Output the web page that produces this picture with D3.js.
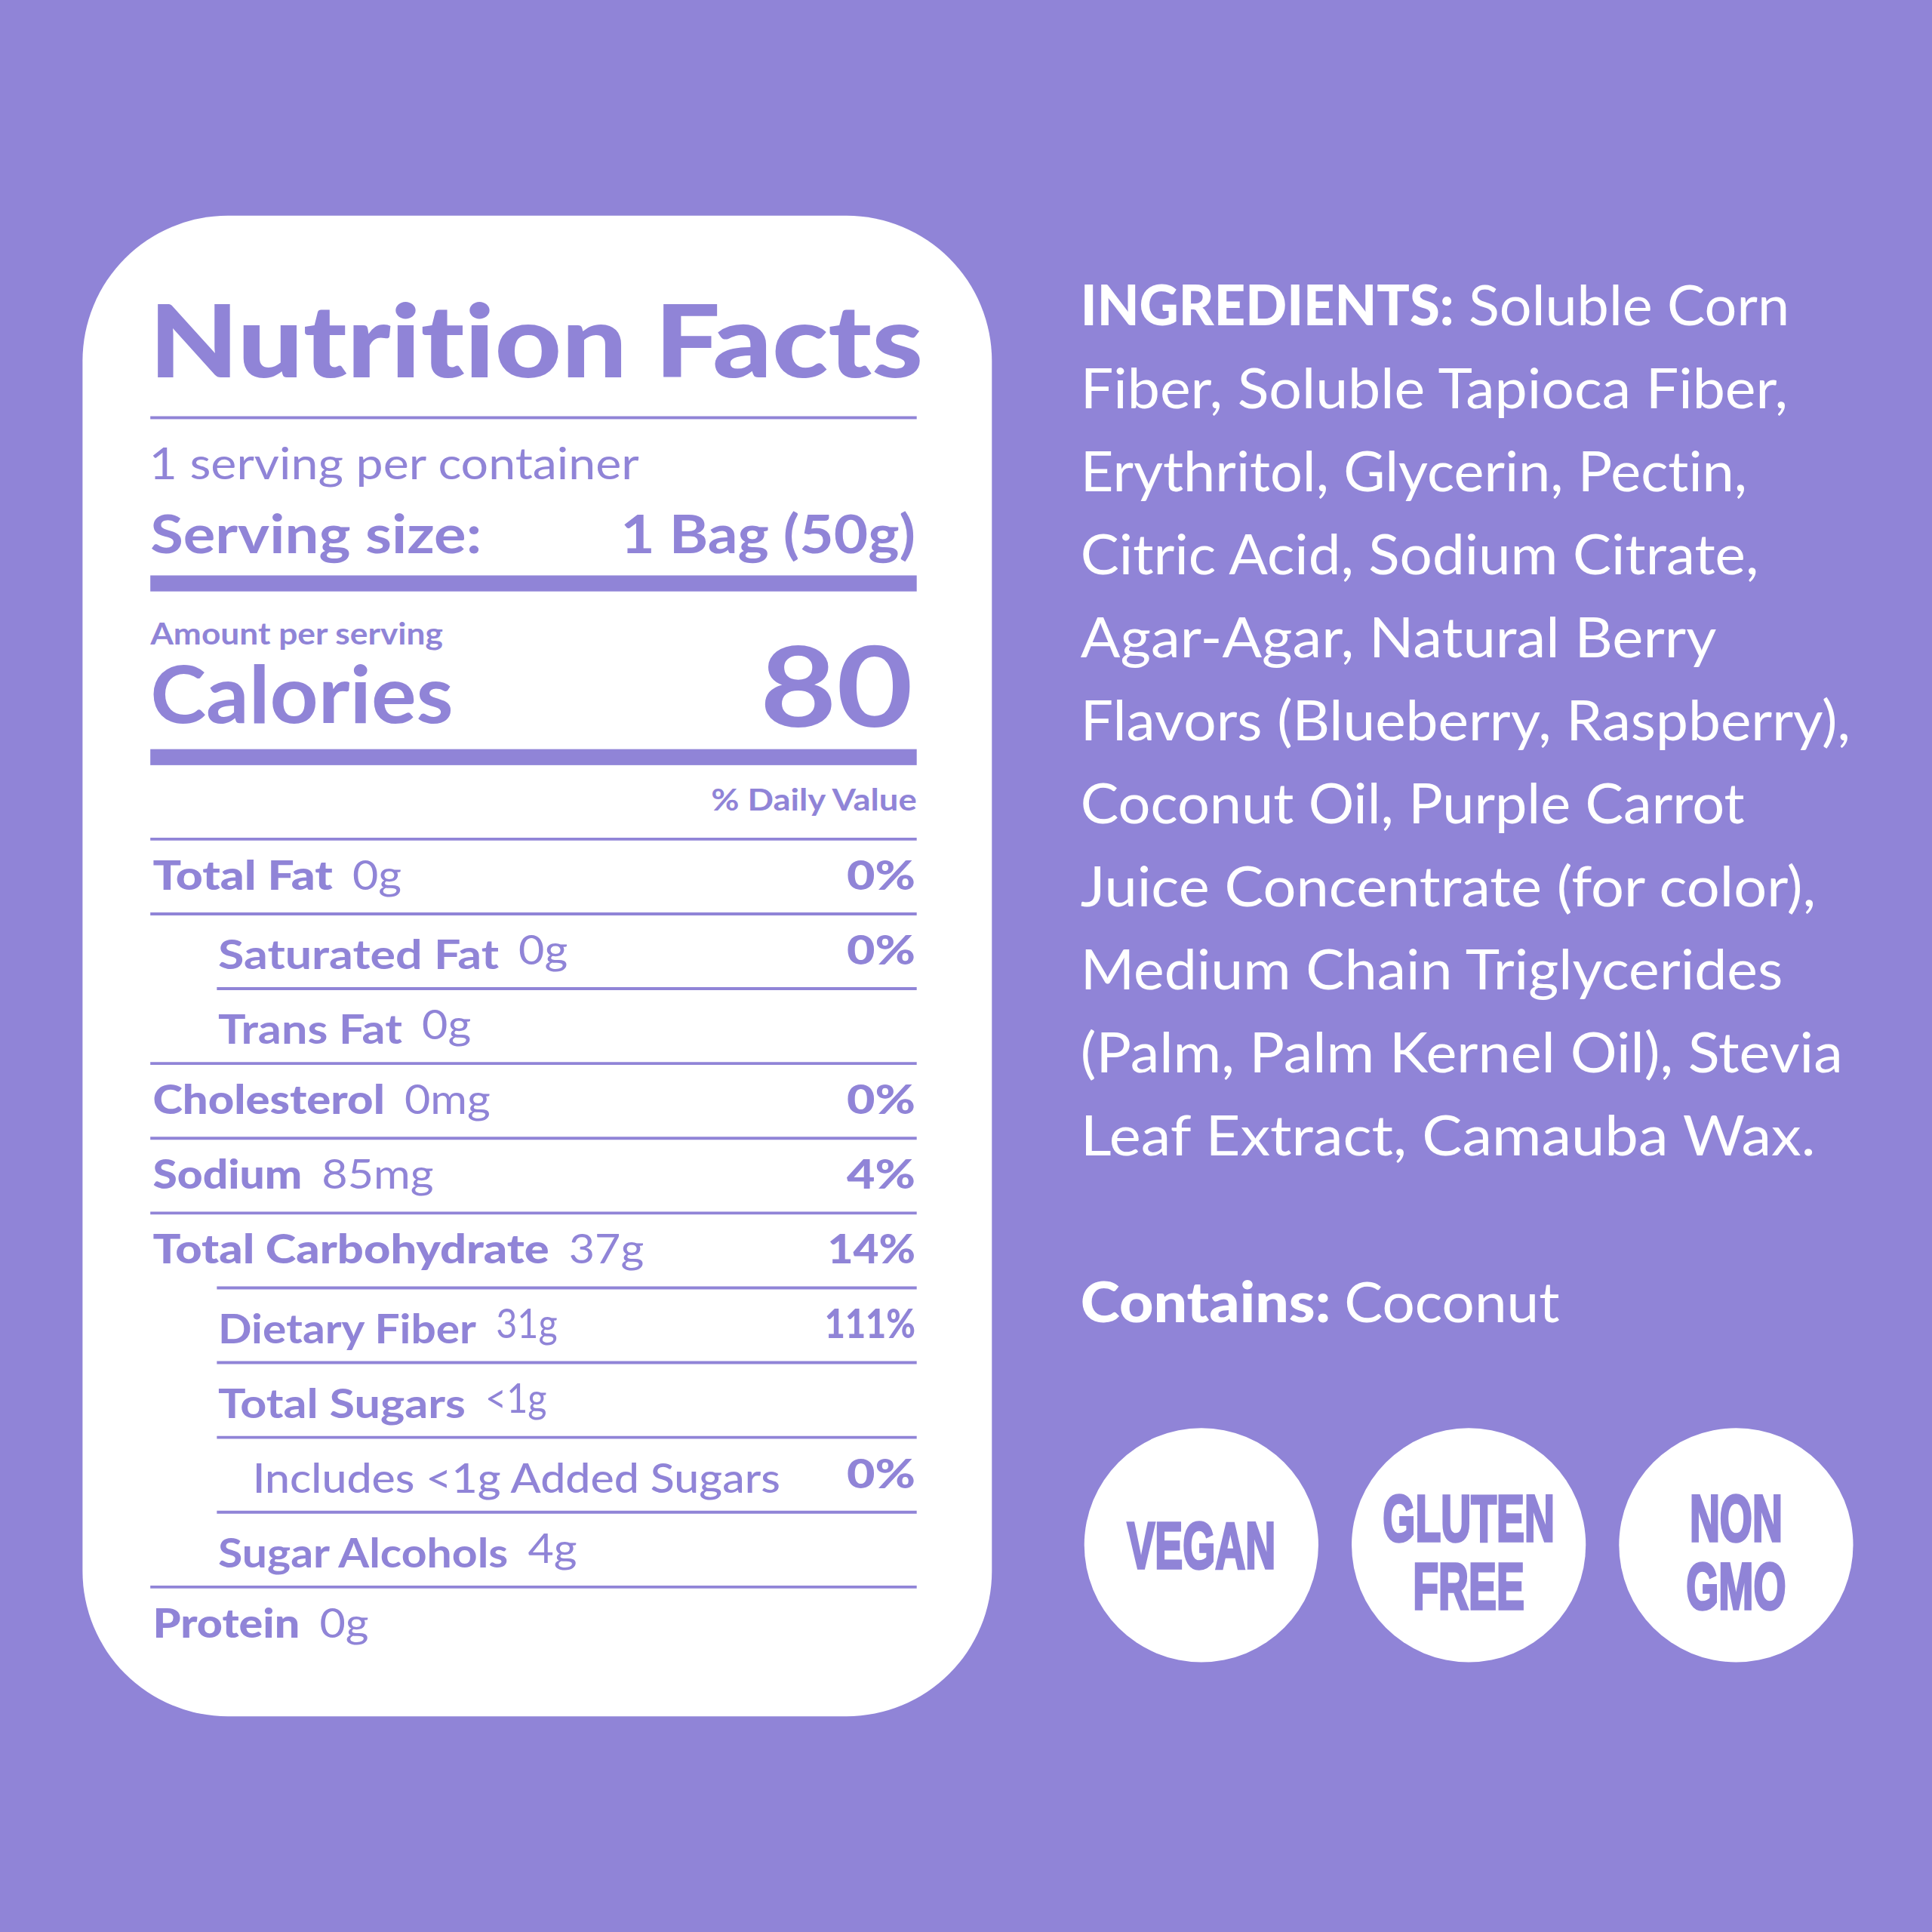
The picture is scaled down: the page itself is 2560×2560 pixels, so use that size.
<!DOCTYPE html>
<html>
<head>
<meta charset="utf-8">
<style>
body { margin: 0; background: #9084d7; }
svg { display: block; }
text { font-family: Lato, sans-serif; font-variant-ligatures: none; }
</style>
</head>
<body>
<svg id="chart" width="2560" height="2560" viewBox="0 0 1568 1568"></svg>
<script src="https://d3js.org/d3.v7.min.js"></script>
<script>

const purple = "#9084d7";

// nutrition rows
const rowLabels = ["Total Fat", "Saturated Fat", "Trans Fat", "Cholesterol", "Sodium", "Total Carbohydrate", "Dietary Fiber", "Total Sugars", "Includes <1g Added Sugars", "Sugar Alcohols", "Protein"];
const rowAmounts = ["0g", "0g", "0g", "0mg", "85mg", "37g", "31g", "<1g", "", "4g", "0g"];
const rowDaily = ["0%", "0%", "", "0%", "4%", "14%", "111%", "", "0%", "", ""];
const rowLevels = [0, 1, 1, 0, 0, 0, 1, 1, 2, 1, 0];
const ruleLevels = [0, 0, 1, 0, 0, 0, 1, 1, 1, 1, 0];

const servingsText = "1 serving per container";
const servingLabel = "Serving size:";
const servingValue = "1 Bag (50g)";
const calories = 80;

const ingredientsLead = "INGREDIENTS:";
const ingredientLines = ["Soluble Corn", "Fiber, Soluble Tapioca Fiber,", "Erythritol, Glycerin, Pectin,", "Citric Acid, Sodium Citrate,", "Agar-Agar, Natural Berry", "Flavors (Blueberry, Raspberry),", "Coconut Oil, Purple Carrot", "Juice Concentrate (for color),", "Medium Chain Triglycerides", "(Palm, Palm Kernel Oil), Stevia", "Leaf Extract, Camauba Wax."];
const containsLead = "Contains:";
const containsValue = "Coconut";

const badges = [["VEGAN"], ["GLUTEN", "FREE"], ["NON", "GMO"]];

const svg = d3.select("#chart");

svg.append("rect").attr("width", 1568).attr("height", 1568).attr("fill", purple);

// scales
const left = 122, right = 744;
const rowY = d3.scaleLinear().domain([0, 10]).range([681, 1288]);
const labelX = d3.scaleOrdinal().domain([0, 1, 2]).range([124, 177, 205]);
const ruleX = d3.scaleOrdinal().domain([0, 1]).range([left, 176]);
const lineY = d3.scaleLinear().domain([0, 10]).range([264, 938]);
const badgeX = d3.scaleLinear().domain([0, 2]).range([975, 1409]);

// Lato is narrower than the original face so lines get stretched a bit
const lineStretch = [1.028, 1.049, 1.03, 1.04, 1.06, 1.043, 1.03, 1.056, 1.048, 1.054, 1.083];
const labelStretch = [1.16, 1.165, 1.135, 1.11, 1.09, 1.14, 1.09, 1.135, 1.096, 1.095, 1.1];

function stretch(sel, k) {
    sel.each(function() {
        let len = this.getComputedTextLength();
        d3.select(this).attr("textLength", len * k).attr("lengthAdjust", "spacingAndGlyphs");
    });
    return sel;
}

function label(x, y, txt, size, weight, anchor) {
    return card.append("text")
        .attr("x", x).attr("y", y)
        .attr("fill", purple)
        .attr("font-size", size)
        .attr("font-weight", weight)
        .attr("text-anchor", anchor || "start")
        .text(txt);
}

// the digit 1 is narrow in the original
function countOnes(s) {
    return s.split("1").length - 1;
}

const card = svg.append("g");

card.append("rect")
    .attr("x", 67).attr("y", 175)
    .attr("width", 738).attr("height", 1218)
    .attr("rx", 118)
    .attr("fill", "#fff");

stretch(label(121, 306, "Nutrition Facts", 82, 900), 1.147);
stretch(label(121, 389, servingsText, 36, 400), 1.097);
stretch(label(122, 449, servingLabel, 43, 700), 1.136);
stretch(label(743, 449, servingValue, 43, 700, "end"), 1.116);
stretch(label(122, 523, "Amount per serving", 25, 700), 1.085);
stretch(label(122, 587, "Calories", 64, 700), 1.07);
stretch(label(741, 590, calories, 90, 700, "end"), 1.19);
stretch(label(744, 658, "% Daily Value", 25, 700, "end"), 1.113);

card.selectAll("rect.bar")
    .data([339, 473.5, 614.5])
    .join("rect")
    .attr("class", "bar")
    .attr("x", left).attr("width", right - left)
    .attr("y", (d, i) => d - (i ? 6.5 : 1.2))
    .attr("height", (d, i) => i ? 13 : 2.4)
    .attr("fill", purple);

card.selectAll("line.rule")
    .data(ruleLevels)
    .join("line")
    .attr("class", "rule")
    .attr("x1", d => ruleX(d)).attr("x2", right)
    .attr("y1", (d, i) => rowY(i)).attr("y2", (d, i) => rowY(i))
    .attr("stroke", purple)
    .attr("stroke-width", 2.4);

rowLabels.forEach((name, i) => {
    let lvl = rowLevels[i];
    let base = rowY(i) + (lvl ? 45 : 41);
    let t = label(labelX(lvl), base, name, 33, lvl == 0 ? 900 : 700);
    if (lvl == 2) t.attr("font-weight", 500);
    stretch(t, labelStretch[i]);
    if (rowAmounts[i]) {
        let end = labelX(lvl) + +t.attr("textLength");
        stretch(label(end + 16, base - (lvl ? 4 : 0), rowAmounts[i], 33, 400), 1.1 - 0.2 * countOnes(rowAmounts[i]));
    }
    if (rowDaily[i]) {
        stretch(label(743, base - (lvl ? 4 : 0), rowDaily[i], 33, 900, "end"), 1.2 - 0.11 * countOnes(rowDaily[i]));
    }
});

// ingredients column
const side = svg.append("g").attr("fill", "#fff");

function sideText(x, y, txt, weight, k) {
    return stretch(side.append("text")
        .attr("x", x).attr("y", y)
        .attr("font-size", 45)
        .attr("font-weight", weight)
        .text(txt), k);
}

ingredientLines.forEach((line, i) => {
    let x = 877;
    if (i == 0) {
        let lead = sideText(x, lineY(i), ingredientsLead, 900, 0.983);
        x += +lead.attr("textLength") + 12;
    }
    sideText(x, lineY(i), line, 400, lineStretch[i]);
});

let cLead = sideText(877, 1073, containsLead, 900, 1.073);
sideText(877 + +cLead.attr("textLength") + 11, 1073, containsValue, 400, 1.04);

// badges
badges.forEach((lines, i) => {
    let g = svg.append("g");
    g.append("circle").attr("cx", badgeX(i)).attr("cy", 1254).attr("r", 95).attr("fill", "#fff");
    lines.forEach((txt, j) => {
        let y = lines.length == 1 ? 1273 : (j == 0 ? 1251 : 1306);
        let t = g.append("text")
            .attr("x", badgeX(i)).attr("y", y)
            .attr("text-anchor", "middle")
            .attr("fill", purple)
            .attr("stroke", purple)
            .attr("stroke-width", 2.2)
            .attr("font-size", 53)
            .attr("font-weight", 700)
            .style("font-family", "'Liberation Sans', sans-serif")
            .text(txt);
        stretch(t, 0.64);
    });
});

</script>
</body>
</html>
